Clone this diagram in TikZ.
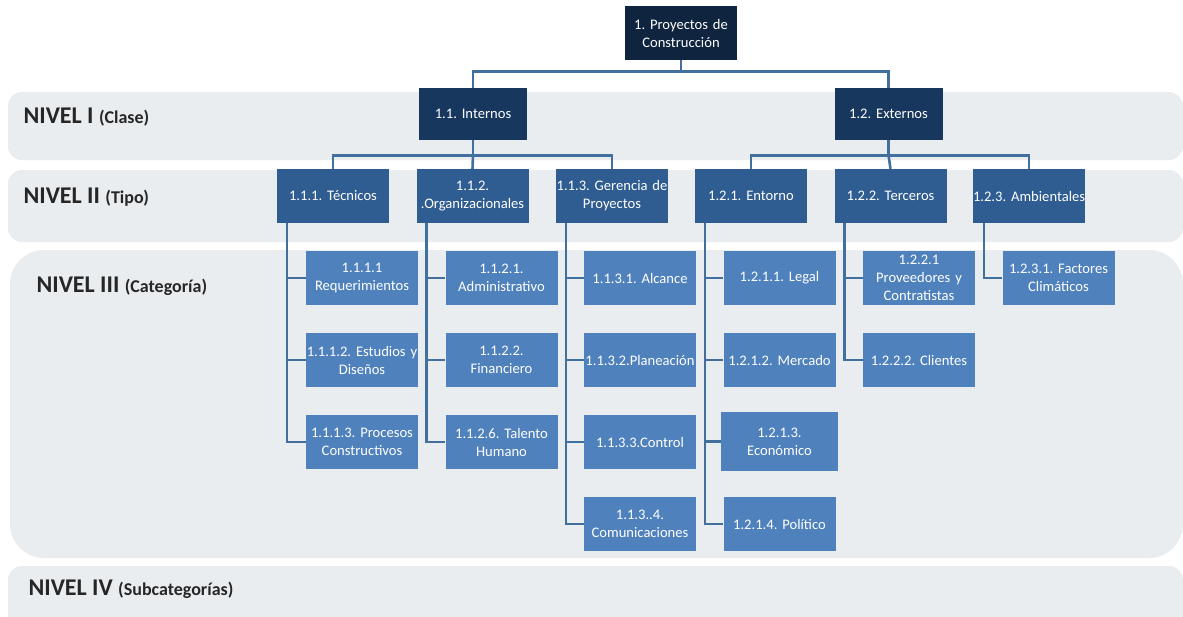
\documentclass[tikz,border=0pt]{standalone}
\usepackage{fontspec}
\setmainfont{Carlito}
\usetikzlibrary{calc}
\definecolor{topblue}{HTML}{0F243E}
\definecolor{clsblue}{HTML}{17375E}
\definecolor{tipblue}{HTML}{2F5C91}
\definecolor{catblue}{HTML}{4F81BD}
\definecolor{linkblue}{HTML}{41709F}
\definecolor{bandfill}{HTML}{E9EDF0}
\frenchspacing
\newcommand{\lvlsmall}{\fontsize{18}{20}\selectfont}
% one unbreakable text line inside a box
\newcommand{\oneline}[1]{\mbox{#1}}
\tikzset{
  box/.style={draw=none, text width=112pt, minimum height=54pt, inner xsep=0pt, inner ysep=1pt,
    text=white, align=center, font=\fontsize{14.6}{18}\selectfont},
  topbox/.style={box, fill=topblue},
  clsbox/.style={box, fill=clsblue, text width=108pt, minimum height=52pt},
  tipbox/.style={box, fill=tipblue},
  catbox/.style={box, fill=catblue},
  conn/.style={draw=linkblue, line width=2.6pt},
  band/.style={fill=bandfill, draw=none},
  lvl/.style={anchor=west, text=black!85, font=\bfseries\fontsize{24}{26}\selectfont}
}
\begin{document}
\begin{tikzpicture}[x=1pt,y=-1pt]
\useasboundingbox (0,0) rectangle (1183,616);
\fill[white] (0,0) rectangle (1183,616);

% background bands for each level
\fill[band, rounded corners=14pt] (8,92) rectangle (1183,160);
\fill[band, rounded corners=14pt] (8,170) rectangle (1183,242);
\fill[band, rounded corners=34pt] (10,250) rectangle (1183,558);
\fill[band, rounded corners=14pt] (8,566) rectangle (1183,630);

% level labels
\node[lvl] (l1) at (20,117) {NIVEL I {\lvlsmall(Clase)}};
\node[lvl] (l2) at (20,197) {NIVEL II {\lvlsmall(Tipo)}};
\node[lvl] (l3) at (33,286) {NIVEL III {\lvlsmall(Categoría)}};
\node[lvl] (l4) at (25,589) {NIVEL IV {\lvlsmall(Subcategorías)}};

% root
\node[topbox] (p) at (681,33) {\oneline{1. Proyectos de}\\\oneline{Construcción}};

% level I
\node[clsbox] (i1) at (473,114) {\oneline{1.1. Internos}};
\node[clsbox] (i2) at (888.5,114) {\oneline{1.2. Externos}};

% level II
\node[tipbox] (t1) at (333,196) {\oneline{1.1.1. Técnicos}};
\node[tipbox] (t2) at (472.5,196) {\oneline{1.1.2.}\\\oneline{.Organizacionales}};
\node[tipbox] (t3) at (612,196) {\oneline{1.1.3. Gerencia de}\\\oneline{Proyectos}};
\node[tipbox] (t4) at (751,196) {\oneline{1.2.1. Entorno}};
\node[tipbox] (t5) at (890.5,196) {\oneline{1.2.2. Terceros}};
\node[tipbox] (t6) at (1029,196) {\oneline{1.2.3. Ambientales}};

% level III
\node[catbox] (c11) at (362,278) {\oneline{1.1.1.1}\\\oneline{Requerimientos}};
\node[catbox] (c12) at (362,360) {\oneline{1.1.1.2. Estudios y}\\\oneline{Diseños}};
\node[catbox] (c13) at (362,442) {\oneline{1.1.1.3. Procesos}\\\oneline{Constructivos}};

\node[catbox] (c21) at (501.5,278) {\oneline{1.1.2.1.}\\\oneline{Administrativo}};
\node[catbox] (c22) at (501.5,360) {\oneline{1.1.2.2.}\\\oneline{Financiero}};
\node[catbox] (c23) at (501.5,442) {\oneline{1.1.2.6. Talento}\\\oneline{Humano}};

\node[catbox] (c31) at (640,278) {\oneline{1.1.3.1. Alcance}};
\node[catbox] (c32) at (640,360) {\oneline{1.1.3.2.Planeación}};
\node[catbox] (c33) at (640,442) {\oneline{1.1.3.3.Control}};
\node[catbox] (c34) at (640,524) {\oneline{1.1.3..4.}\\\oneline{Comunicaciones}};

\node[catbox] (c41) at (779.5,278) {\oneline{1.2.1.1. Legal}};
\node[catbox] (c42) at (779.5,360) {\oneline{1.2.1.2. Mercado}};
\node[catbox, text width=117pt, minimum height=59pt] (c43) at (779.5,441.5) {\oneline{1.2.1.3.}\\\oneline{Económico}};
\node[catbox] (c44) at (779.5,524) {\oneline{1.2.1.4. Político}};

\node[catbox] (c51) at (919,278) {\oneline{1.2.2.1}\\\oneline{Proveedores y}\\\oneline{Contratistas}};
\node[catbox] (c52) at (919,360) {\oneline{1.2.2.2. Clientes}};

\node[catbox] (c61) at (1058.5,278) {\oneline{1.2.3.1. Factores}\\\oneline{Climáticos}};

% root to level I
\draw[conn] (p.south) -- ++(0,11) coordinate (b0);
\draw[conn] (i1.north) |- (b0) -| (i2.north);

% level I to level II
\draw[conn] (i1.south) -- ++(0,15) coordinate (b1);
\draw[conn] (t1.north) |- (b1) -| (t3.north);
\draw[conn] (b1) -- (t2.north);
\draw[conn] (i2.south) -- ++(0,15) coordinate (b2);
\draw[conn] (t4.north) |- (b2) -| (t6.north);
\draw[conn] (b2) -- (t5.north);

% level II to level III: vertical trunks with side branches
\draw[conn] ([xshift=10pt]t1.south west) |- (c13.west);
\draw[conn] ([xshift=10pt]t1.south west) |- (c11.west);
\draw[conn] ([xshift=10pt]t1.south west) |- (c12.west);

\draw[conn] ([xshift=10pt]t2.south west) |- (c23.west);
\draw[conn] ([xshift=10pt]t2.south west) |- (c21.west);
\draw[conn] ([xshift=10pt]t2.south west) |- (c22.west);

\draw[conn] ([xshift=10pt]t3.south west) |- (c34.west);
\draw[conn] ([xshift=10pt]t3.south west) |- (c31.west);
\draw[conn] ([xshift=10pt]t3.south west) |- (c32.west);
\draw[conn] ([xshift=10pt]t3.south west) |- (c33.west);

\draw[conn] ([xshift=10pt]t4.south west) |- (c44.west);
\draw[conn] ([xshift=10pt]t4.south west) |- (c41.west);
\draw[conn] ([xshift=10pt]t4.south west) |- (c42.west);
\draw[conn] ([xshift=10pt]t4.south west) |- (c43.west);

\draw[conn] ([xshift=10pt]t5.south west) |- (c52.west);
\draw[conn] ([xshift=10pt]t5.south west) |- (c51.west);

\draw[conn] ([xshift=11pt]t6.south west) |- (c61.west);
\end{tikzpicture}
\end{document}
